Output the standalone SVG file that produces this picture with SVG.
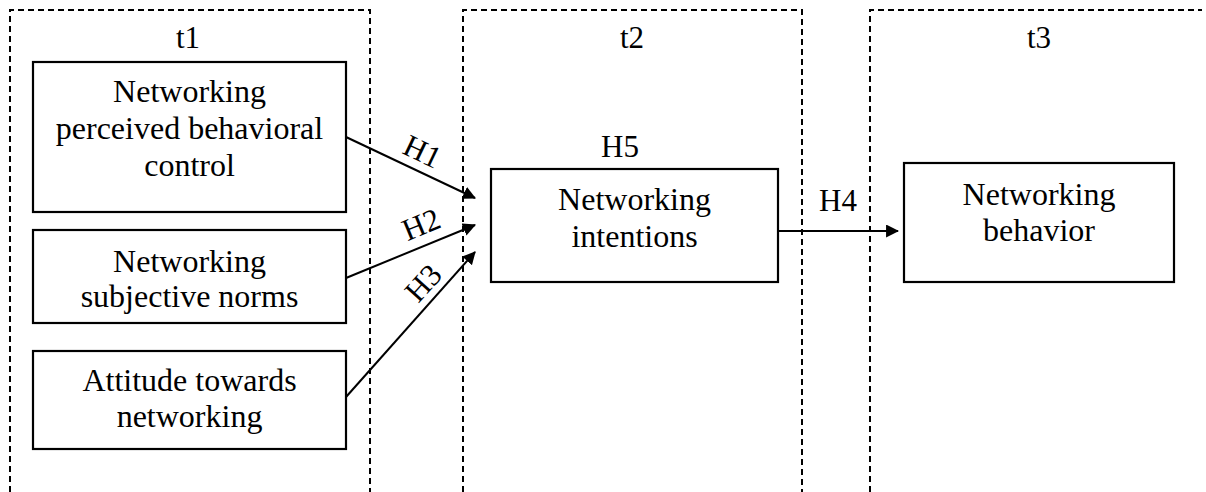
<svg xmlns="http://www.w3.org/2000/svg" width="1206" height="492" viewBox="0 0 1206 492" font-family="'Liberation Serif', 'Times New Roman', Tinos, serif">
  <style>
    .frame { fill: none; stroke: #000; stroke-width: 2; stroke-dasharray: 6 4; }
    .box { fill: #fff; stroke: #000; stroke-width: 2.2; }
    text { font-family: 'Liberation Serif', 'Times New Roman', Tinos, serif; fill: #000; text-anchor: middle; }
    .txt { font-size: 32px; }
    .lbl { font-size: 31px; }
    .link { fill: none; stroke: #000; stroke-width: 2; marker-end: url(#arrow); }
  </style>
  <defs>
    <marker id="arrow" viewBox="0 0 12 12" refX="11" refY="6" markerWidth="6.5" markerHeight="6.5" markerUnits="strokeWidth" orient="auto">
      <path d="M0,0 L12,6 L0,12 z" fill="#000"/>
    </marker>
  </defs>

  <rect width="1206" height="492" fill="#fff"/>

  <!-- time-period frames (open at the bottom / right edge) -->
  <g id="period-t1">
    <path class="frame" d="M10,492 V10 H370 V492"/>
    <text class="lbl" x="188" y="48">t1</text>
  </g>
  <g id="period-t2">
    <path class="frame" d="M463,492 V10 H802 V492"/>
    <text class="lbl" x="632" y="48">t2</text>
  </g>
  <g id="period-t3">
    <path class="frame" d="M870,492 V10 H1202"/>
    <text class="lbl" x="1039" y="48">t3</text>
  </g>

  <!-- connectors -->
  <g id="connectors">
    <line class="link" x1="346" y1="137" x2="475" y2="198"/>
    <line class="link" x1="346" y1="278" x2="475" y2="225"/>
    <line class="link" x1="346" y1="397" x2="475" y2="252"/>
    <line class="link" x1="778" y1="231" x2="898" y2="231"/>
    <text class="lbl" transform="translate(418,161) rotate(25.5)">H1</text>
    <text class="lbl" transform="translate(425,234) rotate(-22.4)">H2</text>
    <text class="lbl" transform="translate(431,290) rotate(-48)">H3</text>
    <text class="lbl" x="838" y="211">H4</text>
    <text class="lbl" x="620" y="157">H5</text>
  </g>

  <!-- nodes -->
  <g id="pbc">
    <rect class="box" x="33" y="62" width="313" height="150"/>
    <text class="txt" x="189.5" y="102">Networking</text>
    <text class="txt" x="189.5" y="139">perceived behavioral</text>
    <text class="txt" x="189.5" y="176">control</text>
  </g>
  <g id="norms">
    <rect class="box" x="33" y="230" width="313" height="93"/>
    <text class="txt" x="189.5" y="272">Networking</text>
    <text class="txt" x="189.5" y="307">subjective norms</text>
  </g>
  <g id="attitude">
    <rect class="box" x="33" y="351" width="313" height="98"/>
    <text class="txt" x="189.5" y="391">Attitude towards</text>
    <text class="txt" x="189.5" y="427">networking</text>
  </g>
  <g id="intentions">
    <rect class="box" x="491" y="169" width="287" height="113"/>
    <text class="txt" x="634.5" y="210">Networking</text>
    <text class="txt" x="634.5" y="247">intentions</text>
  </g>
  <g id="behavior">
    <rect class="box" x="904" y="163" width="270" height="119"/>
    <text class="txt" x="1039" y="205">Networking</text>
    <text class="txt" x="1039" y="241">behavior</text>
  </g>
</svg>
